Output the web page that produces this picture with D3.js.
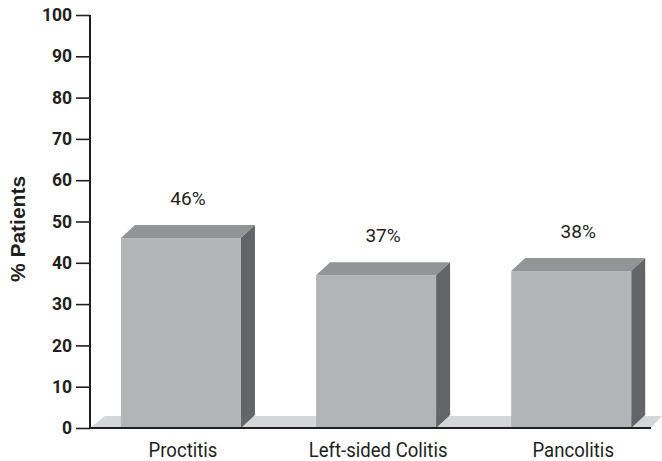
<!DOCTYPE html>
<html>
<head>
<meta charset="utf-8">
<script src="https://cdn.jsdelivr.net/npm/d3@7/dist/d3.min.js"></script>
<style>
  html, body { margin: 0; padding: 0; background: #fff; }
  svg { display: block; }
  .lbl { font-family: Roboto, "Liberation Sans", Arial, sans-serif; }
</style>
</head>
<body>
<svg id="chart" width="662" height="461"></svg>
<script>
// Share of patients by disease extent
const categories = ["Proctitis", "Left-sided Colitis", "Pancolitis"];
const values = [46, 37, 38];
const yTicks = [0, 10, 20, 30, 40, 50, 60, 70, 80, 90, 100];
const yTitle = "% Patients";

const svg = d3.select("#chart");

const x0 = 90, x1 = 651, yBase = 428, yTop = 15;
const depthX = 14, depthY = 13;
const narrow = 0.885; // horizontal squeeze for the condensed category labels

const y = d3.scaleLinear().domain([0, 100]).range([yBase, yTop]);
const x = d3.scaleBand()
  .domain(categories)
  .range([x0, x1])
  .paddingInner(0.385)
  .paddingOuter(0.13)
  .align(0.61);

const colors = { front: "#b3b4b6", top: "#939496", side: "#646568", floor: "#d5d6d8", ink: "#231f20" };

// floor slab behind the bars
svg.append("path")
  .attr("d", `M${x0},${yBase} L${x0 + 15},${yBase - 12} L${x1 + 11},${yBase - 12} L${x1},${yBase} Z`)
  .attr("fill", colors.floor);

// 3-D bars: front, top and right faces
const bars = svg.append("g").selectAll("g").data(categories).join("g");
bars.each(function(c, i) {
  const g = d3.select(this);
  const l = x(c), r = x(c) + x.bandwidth();
  const t = y(values[i]), b = y(0);
  g.append("path")
    .attr("d", `M${l},${t} L${l + depthX},${t - depthY} L${r + depthX},${t - depthY} L${r},${t} Z`)
    .attr("fill", colors.top);
  g.append("path")
    .attr("d", `M${r},${t} L${r + depthX},${t - depthY} L${r + depthX},${b - depthY} L${r},${b} Z`)
    .attr("fill", colors.side);
  g.append("rect")
    .attr("x", l).attr("y", t)
    .attr("width", x.bandwidth()).attr("height", b - t)
    .attr("fill", colors.front);
});

// value labels above each bar
svg.append("g").selectAll("text").data(categories).join("text")
  .attr("class", "lbl")
  .attr("x", c => x(c) + x.bandwidth() / 2 + 7)
  .attr("y", (c, i) => y(values[i]) - 33)
  .attr("text-anchor", "middle")
  .attr("font-size", 19)
  .attr("fill", colors.ink)
  .text((c, i) => values[i] + "%");

// y axis
const yAxis = d3.axisLeft(y).tickValues(yTicks).tickSize(14).tickPadding(4);
const gy = svg.append("g").attr("transform", `translate(${x0},0)`).call(yAxis);
gy.select(".domain").attr("stroke", colors.ink).attr("stroke-width", 2).attr("d", `M0,${yTop}V${yBase}`);
gy.selectAll(".tick line").attr("stroke", colors.ink).attr("stroke-width", 1.6);
gy.selectAll(".tick text")
  .attr("class", "lbl")
  .attr("font-size", 17.5)
  .attr("font-weight", "bold")
  .attr("fill", colors.ink);

// x axis
const xAxis = d3.axisBottom(x).tickSize(0).tickPadding(14);
const gx = svg.append("g").attr("transform", `translate(0,${yBase})`).call(xAxis);
gx.select(".domain").attr("stroke", colors.ink).attr("stroke-width", 2).attr("d", `M${x0},0H${x1}`);
gx.selectAll(".tick text")
  .attr("class", "lbl")
  .attr("font-size", 21)
  .attr("x", 2 / narrow)
  .attr("transform", `scale(${narrow},1)`)
  .attr("fill", colors.ink);

// y axis title
svg.append("text")
  .attr("transform", `translate(25,229) rotate(-90)`)
  .attr("text-anchor", "middle")
  .attr("font-family", "'Liberation Sans', Arial, sans-serif")
  .attr("font-size", 21)
  .attr("font-weight", "bold")
  .attr("fill", colors.ink)
  .text(yTitle);
</script>
</body>
</html>
